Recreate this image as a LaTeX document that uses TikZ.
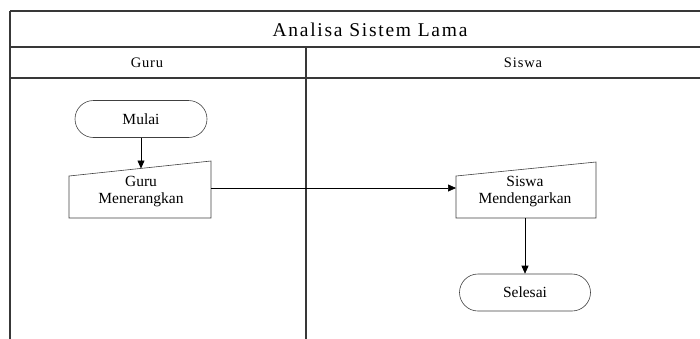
\documentclass[tikz,border=0pt]{standalone}
\usepackage{fontspec}
\setmainfont{Liberation Serif}
\newfontfamily\titlefont[LetterSpace=9]{Liberation Serif}
\newfontfamily\headfont[LetterSpace=6]{Liberation Serif}
\usetikzlibrary{shapes.misc,arrows.meta,calc}
\tikzset{
  pool/.style={line width=1.6pt, draw=black!78},
  terminal/.style={draw=black!75, line width=0.6pt, rounded rectangle,
    minimum width=132pt, minimum height=37pt, inner sep=0pt,
    font=\fontsize{15.5}{17}\selectfont},
  manualtext/.style={inner sep=0pt, align=center,
    font=\fontsize{15.5}{17}\selectfont},
  manualedge/.style={draw=black!75, line width=0.6pt},
  flow/.style={draw=black, line width=0.6pt, -{Triangle[length=8pt,width=7pt]}},
}
\begin{document}
\begin{tikzpicture}[x=1pt,y=-1pt]
\useasboundingbox (0,0) rectangle (700,338);
\clip (0,0) rectangle (700,338);

% swimlane frame
\draw[pool] (10,11) -- (745,11);
\draw[pool] (10,47) -- (745,47);
\draw[pool] (10,78) -- (745,78);
\draw[pool] (10,11) -- (10,345);
\draw[pool] (306,47) -- (306,345);

\node (title) at (370,29.5) {\titlefont\fontsize{19.5}{21}\selectfont Analisa Sistem Lama};
\node (laneGuru) at (147,62.5) {\headfont\fontsize{14.5}{16}\selectfont Guru};
\node (laneSiswa) at (523,62.5) {\headfont\fontsize{14.5}{16}\selectfont Siswa};

% flowchart
\node[terminal] (mulai) at (141,119) {Mulai};

% manual input: Guru Menerangkan
\node[manualtext] (guru) at (141,191.5) {Guru\\Menerangkan};
\path[manualedge] ($(guru)+(-72,26.5)$) -- ($(guru)+(70,26.5)$)
  -- ($(guru)+(70,-30.5)$) -- ($(guru)+(-72,-15.5)$) -- cycle;
\coordinate (guruTop) at ($(guru)+(0,-23)$);
\coordinate (guruRight) at ($(guru)+(70,-3.5)$);

% manual input: Siswa Mendengarkan
\node[manualtext] (siswa) at (525,191.5) {Siswa\\Mendengarkan};
\path[manualedge] ($(siswa)+(-69,26.5)$) -- ($(siswa)+(71,26.5)$)
  -- ($(siswa)+(71,-29.5)$) -- ($(siswa)+(-69,-15.5)$) -- cycle;
\coordinate (siswaLeft) at ($(siswa)+(-69,-3.5)$);
\coordinate (siswaBottom) at ($(siswa)+(0,26.5)$);

\node[terminal, minimum width=131pt] (selesai) at (525,292.5) {Selesai};

\draw[flow] (mulai.south) -- (guruTop);
\draw[flow] (guruRight) -- (siswaLeft);
\draw[flow] (siswaBottom) -- (selesai.north);
\end{tikzpicture}
\end{document}
